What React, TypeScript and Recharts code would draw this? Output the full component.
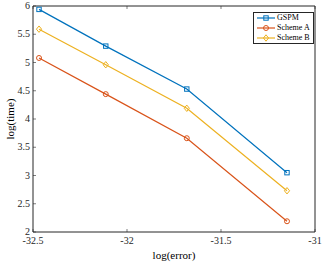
import React from "react";
import { LineChart, Line, XAxis, YAxis } from "recharts";

const errors = [-32.468, -32.113, -31.682, -31.149];
const gspm = [5.94, 5.29, 4.53, 3.05];
const schemeA = [5.08, 4.44, 3.66, 2.19];
const schemeB = [5.59, 4.96, 4.19, 2.73];

const xTicks = [-32.5, -32, -31.5, -31];
const yTicks = [2, 2.5, 3, 3.5, 4, 4.5, 5, 5.5, 6];

const BLUE = "#0072BD";
const RED = "#D95319";
const GOLD = "#EDB120";
const AXIS = "#262626";
const FONT = "Liberation Serif, Times New Roman, serif";

const data = errors.map((e, i) => ({ e, gspm: gspm[i], a: schemeA[i], b: schemeB[i] }));

const series = [
  { key: "gspm", name: "GSPM", color: BLUE, shape: "square" },
  { key: "a", name: "Scheme A", color: RED, shape: "circle" },
  { key: "b", name: "Scheme B", color: GOLD, shape: "diamond" },
];

function Marker({ cx, cy, color, shape }: any) {
  if (cx == null || cy == null) return null;
  if (shape === "square")
    return <rect x={cx - 2.2} y={cy - 2.2} width={4.4} height={4.4} fill="none" stroke={color} strokeWidth={1} />;
  if (shape === "circle")
    return <circle cx={cx} cy={cy} r={2.5} fill="none" stroke={color} strokeWidth={1} />;
  return (
    <polygon
      points={`${cx},${cy - 3.2} ${cx + 2.6},${cy} ${cx},${cy + 3.2} ${cx - 2.6},${cy}`}
      fill="none" stroke={color} strokeWidth={1}
    />
  );
}

const fmt = (v: number) => String(v);

// custom ticks: MATLAB-style inward tick marks
function BottomTick({ x, y, payload }: any) {
  return (
    <g>
      <line x1={x} x2={x} y1={y} y2={y - 3} stroke={AXIS} strokeWidth={0.6} />
      <text x={x} y={y + 12} textAnchor="middle" fontSize={10} fontFamily={FONT} fill={AXIS}>{fmt(payload.value)}</text>
    </g>
  );
}
function TopTick({ x, y }: any) {
  return <line x1={x} x2={x} y1={y} y2={y + 3} stroke={AXIS} strokeWidth={0.6} />;
}
function LeftTick({ x, y, payload }: any) {
  return (
    <g>
      <line x1={x} x2={x + 3} y1={y} y2={y} stroke={AXIS} strokeWidth={0.6} />
      <text x={x - 3} y={y + 3} textAnchor="end" fontSize={10} fontFamily={FONT} fill={AXIS}>{fmt(payload.value)}</text>
    </g>
  );
}
function RightTick({ x, y }: any) {
  return <line x1={x} x2={x - 3} y1={y} y2={y} stroke={AXIS} strokeWidth={0.6} />;
}

function LegendBox() {
  return (
    <div style={{ position: "absolute", left: 253, top: 12, boxSizing: "border-box", width: 61, height: 32, border: "1px solid #262626", background: "#fff", padding: "0 2px", fontFamily: FONT, fontSize: 8, lineHeight: "10px" }}>
      {series.map((s) => (
        <div key={s.key} style={{ display: "flex", alignItems: "center", height: 10 }}>
          <svg width={20} height={10}>
            <line x1={1} x2={19} y1={5} y2={5} stroke={s.color} strokeWidth={1.2} />
            <Marker cx={10} cy={5} color={s.color} shape={s.shape} />
          </svg>
          <span style={{ marginLeft: 1, color: "#000", whiteSpace: "nowrap" }}>{s.name}</span>
        </div>
      ))}
    </div>
  );
}

export default function App() {
  return (
    <div style={{ position: "absolute", left: 0, top: 0, width: 327, height: 263, background: "#fff" }}>
      <LineChart width={327} height={263} data={data} margin={{ top: 5, right: 11, bottom: 30, left: 32 }}>
        <XAxis
          xAxisId="b" dataKey="e" type="number" domain={[-32.5, -31]} ticks={xTicks}
          height={1} tickSize={0} tickMargin={0} tickLine={false} stroke={AXIS} tick={<BottomTick />}
          allowDataOverflow interval={0}
        />
        <XAxis
          xAxisId="t" dataKey="e" type="number" orientation="top" domain={[-32.5, -31]} ticks={xTicks}
          height={1} tickSize={0} tickMargin={0} tickLine={false} stroke={AXIS} tick={<TopTick />} interval={0}
        />
        <YAxis
          yAxisId="l" type="number" domain={[2, 6]} ticks={yTicks}
          width={1} tickSize={0} tickMargin={0} tickLine={false} stroke={AXIS} tick={<LeftTick />} interval={0}
        />
        <YAxis
          yAxisId="r" type="number" orientation="right" domain={[2, 6]} ticks={yTicks}
          width={1} tickSize={0} tickMargin={0} tickLine={false} stroke={AXIS} tick={<RightTick />} interval={0}
        />
        {series.map((s) => (
          <Line
            key={s.key} xAxisId="b" yAxisId="l" dataKey={s.key} name={s.name}
            stroke={s.color} strokeWidth={1.2} isAnimationActive={false}
            dot={(p: any) => <Marker key={p.index} cx={p.cx} cy={p.cy} color={s.color} shape={s.shape} />}
            activeDot={false}
          />
        ))}
      </LineChart>
      <LegendBox />
      <div style={{ position: "absolute", left: 0, top: 0, width: 327, height: 263, pointerEvents: "none", fontFamily: FONT, fontSize: 11, color: "#000" }}>
        <div style={{ position: "absolute", left: 10, top: 119, transform: "translate(-50%, -50%) rotate(-90deg)", whiteSpace: "nowrap" }}>log(time)</div>
        <div style={{ position: "absolute", left: 174, top: 255, transform: "translate(-50%, -50%)", whiteSpace: "nowrap" }}>log(error)</div>
      </div>
    </div>
  );
}
